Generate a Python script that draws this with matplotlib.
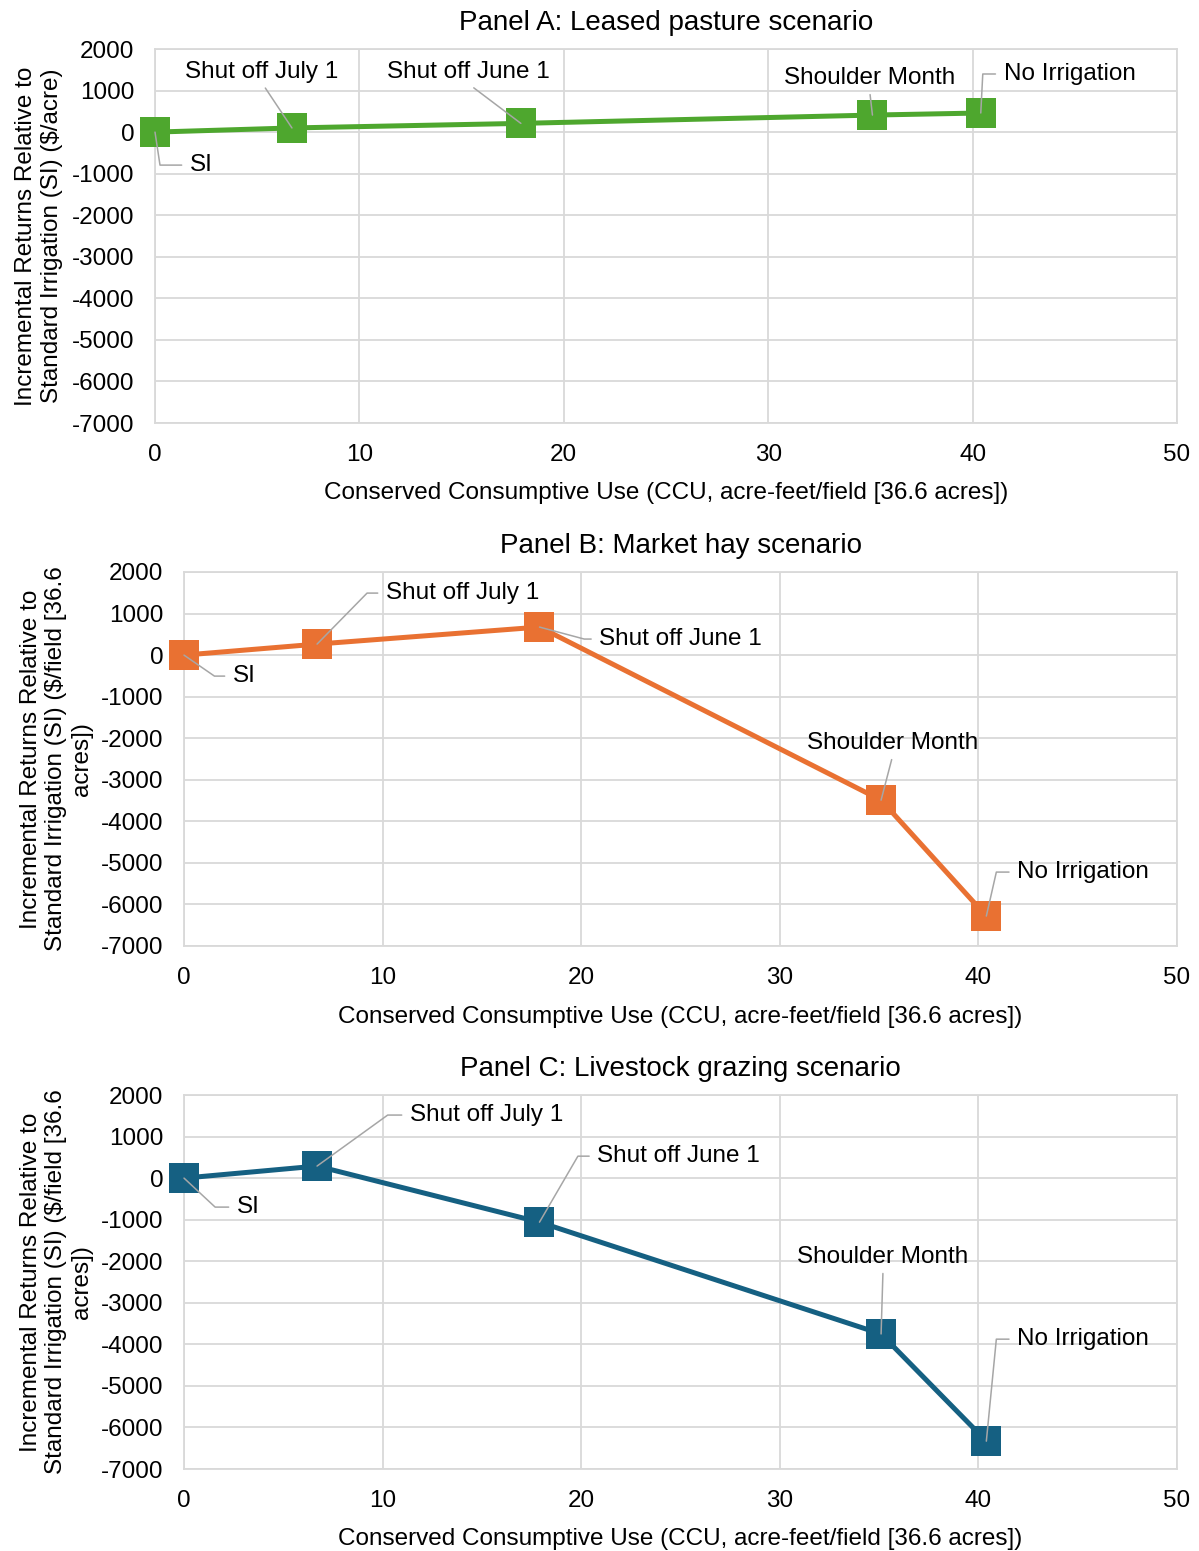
import math
import matplotlib
matplotlib.use("Agg")
import matplotlib.pyplot as plt

plt.rcParams["font.family"] = ["Liberation Sans", "DejaVu Sans"]

# Conserved consumptive use (acre-feet per 36.6-acre field) for each irrigation strategy
strategies = ["SI", "Shut off July 1", "Shut off June 1", "Shoulder Month", "No Irrigation"]
ccu = [0, 6.7, 17.9, 35.1, 40.4]

# Incremental returns relative to standard irrigation
returns_leased = [0, 100, 210, 410, 460]
returns_hay = [0, 265, 675, -3490, -6280]
returns_grazing = [0, 290, -1060, -3750, -6330]

x_ticks = [0, 10, 20, 30, 40, 50]
y_ticks = [2000, 1000, 0, -1000, -2000, -3000, -4000, -5000, -6000, -7000]

GREEN = "#4EA72E"
ORANGE = "#E97132"
BLUE = "#156082"
GRID = "#D9D9D9"
LEADER = "#A6A6A6"
FS = 17.5
TITLE_FS = 20

W, H = 1199, 1551
fig = plt.figure(figsize=(W / 100, H / 100), dpi=100)


def px_axes(left, top, right, bottom):
    return fig.add_axes([left / W, 1 - bottom / H, (right - left) / W, (bottom - top) / H])


def leader_label(ax, x, y, text, off, corner=None):
    """Data label placed at a pixel offset, joined to its point by a grey leader."""
    if corner is None:
        ax.annotate(text, xy=(x, y), xytext=off, textcoords="offset pixels",
                    ha="center", va="center", fontsize=FS, zorder=6,
                    arrowprops=dict(arrowstyle="-", color=LEADER, lw=1.1,
                                    relpos=(0.5, 0.0), shrinkA=2, shrinkB=0))
    else:
        ang = math.degrees(math.atan2(corner[1], corner[0]))
        ax.annotate(text, xy=(x, y), xytext=off, textcoords="offset pixels",
                    ha="left", va="center", fontsize=FS, zorder=6,
                    arrowprops=dict(arrowstyle="-", color=LEADER, lw=1.1,
                                    relpos=(0.0, 0.5), shrinkA=4, shrinkB=0,
                                    connectionstyle=f"angle,angleA=0,angleB={ang},rad=0"))


def panel(ax, values, color, title, ylabel, ylabel_right_px, labels):
    ax.plot(ccu, values, color=color, lw=3.6, marker="s", markersize=21,
            markeredgewidth=0, solid_joinstyle="miter", zorder=4, clip_on=False)
    ax.set_xlim(0, 50)
    ax.set_ylim(-7000, 2000)
    ax.set_xticks(x_ticks)
    ax.set_yticks(y_ticks)
    ax.set_yticklabels([str(v) for v in y_ticks])
    ax.tick_params(length=0, labelsize=FS, pad=15)
    ax.grid(True, color=GRID, lw=1.3)
    ax.set_axisbelow(True)
    for s in ax.spines.values():
        s.set_color(GRID)
        s.set_linewidth(1.3)
    ax.set_title(title, fontsize=TITLE_FS, pad=14)
    ax.set_xlabel("Conserved Consumptive Use (CCU, acre-feet/field [36.6 acres])",
                  fontsize=FS, labelpad=12)
    ax.set_ylabel(ylabel, fontsize=FS, linespacing=1.22)
    left_px = ax.get_position().x0 * W
    width_px = ax.get_position().width * W
    ax.yaxis.set_label_coords((ylabel_right_px - left_px) / width_px, 0.5)
    for (name, off, corner), xv, yv in zip(labels, ccu, values):
        leader_label(ax, xv, yv, name, off, corner)


ax_a = px_axes(155, 49, 1177, 423)
ax_b = px_axes(184, 572, 1177, 946)
ax_c = px_axes(184, 1095, 1177, 1469)

labels_a = [
    ("SI", (35, -33), (5, -33)),
    ("Shut off July 1", (-30, 56), None),
    ("Shut off June 1", (-53, 51), None),
    ("Shoulder Month", (-3, 37), None),
    ("No Irrigation", (23, 39), (2, 39)),
]
labels_b = [
    ("SI", (49, -21), (29, -20)),
    ("Shut off July 1", (69, 51), (50, 51)),
    ("Shut off June 1", (60, -12), (41, -11)),
    ("Shoulder Month", (12, 57), None),
    ("No Irrigation", (31, 44), (10, 44)),
]
labels_c = [
    ("SI", (53, -29), (29, -27)),
    ("Shut off July 1", (93, 51), (72, 52)),
    ("Shut off June 1", (58, 66), (39, 67)),
    ("Shoulder Month", (2, 77), None),
    ("No Irrigation", (31, 102), (10, 102)),
]

panel(ax_a, returns_leased, GREEN, "Panel A: Leased pasture scenario",
      "Incremental Returns Relative to\nStandard Irrigation (SI) ($/acre)", 63, labels_a)
panel(ax_b, returns_hay, ORANGE, "Panel B: Market hay scenario",
      "Incremental Returns Relative to\nStandard Irrigation (SI) ($/field [36.6\nacres])", 93, labels_b)
panel(ax_c, returns_grazing, BLUE, "Panel C: Livestock grazing scenario",
      "Incremental Returns Relative to\nStandard Irrigation (SI) ($/field [36.6\nacres])", 93, labels_c)

fig.savefig("out.png", dpi=100, facecolor="white")
